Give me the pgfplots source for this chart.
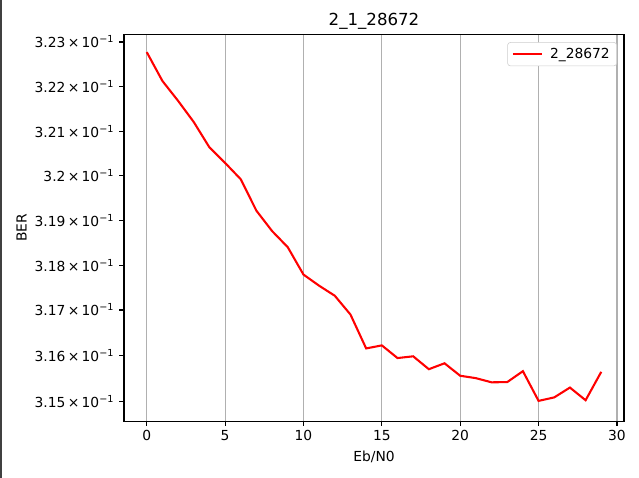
\documentclass[border=0pt]{standalone}
\usepackage{fontspec}
\setmainfont{DejaVu Sans}
\usepackage{pgfplots}
\pgfplotsset{compat=1.18}

\newcommand{\ylab}[1]{#1\,×\,10\textsuperscript{−1}}

\begin{document}
\begin{tikzpicture}[x=1in,y=1in]
  % canvas, same size as the 639x478 reference
  \path[use as bounding box] (-1.24,-0.57) rectangle (5.15,4.21);
  \fill[black!75] (-1.24,-0.57) rectangle (-1.22,4.21);
  \begin{axis}[
      at={(0,0)}, anchor=south west,
      scale only axis, width=5in, height=3.87in,
      ymode=log,
      xmin=-1.45, xmax=30.45,
      ymin=0.314555, ymax=0.323174,
      xtick={0,5,...,30},
      ytick={0.315,0.316,0.317,0.318,0.319,0.320,0.321,0.322,0.323},
      yticklabels={\ylab{3.15},\ylab{3.16},\ylab{3.17},\ylab{3.18},\ylab{3.19},\ylab{3.2},\ylab{3.21},\ylab{3.22},\ylab{3.23}},
      minor ytick={}, minor xtick={},
      /pgf/number format/assume math mode=true,
      tick align=outside, tick pos=left,
      major tick length=3.5pt,
      tick style={black, line width=0.8pt},
      axis line style={line width=0.8pt},
      xmajorgrids=true, ymajorgrids=false,
      grid style={color=black!31, line width=0.8pt},
      ticklabel style={font=\fontsize{10}{12}\selectfont},
      title={2\_1\_28672},
      title style={font=\fontsize{12}{14}\selectfont, yshift=-6pt},
      xlabel={Eb/N0}, ylabel={BER},
      label style={font=\fontsize{10}{12}\selectfont},
      ylabel style={yshift=-1pt},
      legend style={at={(1,1)}, anchor=north east, xshift=-0.07in, yshift=-0.08in,
        draw=black!20, rounded corners=2pt, font=\fontsize{10}{12}\selectfont,
        inner xsep=3pt, inner ysep=2pt},
      legend cell align=left,
      legend image code/.code={\draw[#1, line width=1.5pt] (0cm,0cm) -- (0.75cm,0cm); \path (0.85cm,0cm);},
    ]
    \addplot[red, line width=1.5pt] coordinates {
      (0,0.322778)(1,0.322127)(2,0.321678)(3,0.321207)(4,0.320641)
      (5,0.320294)(6,0.319906)(7,0.319232)(8,0.318742)(9,0.318385)
      (10,0.317806)(11,0.317532)(12,0.317323)(13,0.316915)(14,0.316165)
      (15,0.316232)(16,0.315958)(17,0.315995)(18,0.315697)(19,0.315831)
      (20,0.315557)(21,0.315497)(22,0.315416)(23,0.315408)(24,0.315668)
      (25,0.314996)(26,0.315073)(27,0.315296)(28,0.315022)(29,0.315639)
    };
    \addlegendentry{2\_28672}
  \end{axis}
\end{tikzpicture}
\end{document}
